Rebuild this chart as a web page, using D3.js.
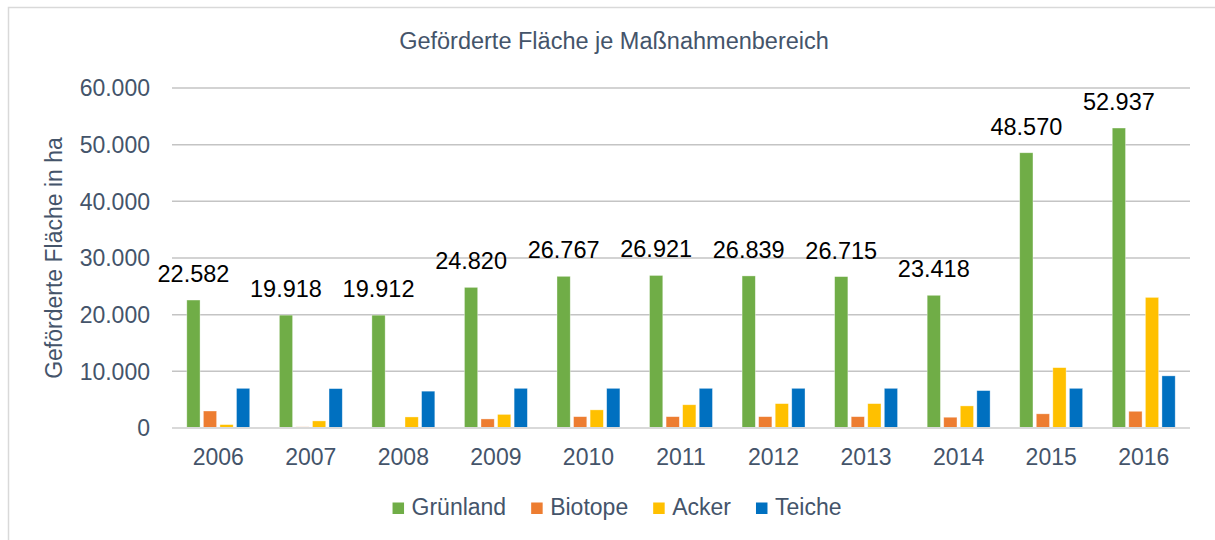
<!DOCTYPE html>
<html>
<head>
<meta charset="utf-8">
<script src="https://cdn.jsdelivr.net/npm/d3@7"></script>
<style>
  body { margin: 0; background: #fff; }
  svg text { font-family: "Liberation Sans", Arial, sans-serif; }
</style>
</head>
<body>
<svg id="vis-svg" width="1215" height="540"></svg>
<script>
// data
var years = ["2006","2007","2008","2009","2010","2011","2012","2013","2014","2015","2016"];
var series = ["Grünland","Biotope","Acker","Teiche"];
var gruenland = [22582,19918,19912,24820,26767,26921,26839,26715,23418,48570,52937];
var biotope = [3000,200,0,1600,2000,2000,2000,2000,1900,2500,2950];
var acker = [600,1250,1950,2400,3200,4100,4300,4300,3900,10650,23050];
var teiche = [7000,6950,6500,7000,7000,7000,7000,7000,6600,7000,9200];
var yTicks = [0,10000,20000,30000,40000,50000,60000];
var colors = ["#70AD47","#ED7D31","#FFC000","#0070C0"];

var width = 1215, height = 540;
var margin = { top: 88, right: 25, bottom: 112, left: 172 };
var textColor = "#44546A";

var de = d3.formatLocale({ decimal: ",", thousands: ".", grouping: [3], currency: ["", " €"] });
var fmt = de.format(",d");

var svg = d3.select("#vis-svg");

// chart frame (only left/top edges are in view)
svg.append("rect")
  .attr("x", 8.5).attr("y", 7.5)
  .attr("width", 1230).attr("height", 560)
  .attr("fill", "none")
  .attr("stroke", "#d9d9d9")
  .attr("stroke-width", 1.5);

var x = d3.scaleBand()
  .domain(years)
  .range([margin.left, width - margin.right])
  .paddingInner(0.32)
  .paddingOuter(0.16);

var xs = d3.scaleBand()
  .domain(series)
  .range([0, x.bandwidth()])
  .paddingInner(0.2);

var y = d3.scaleLinear()
  .domain([0, 60000])
  .range([height - margin.bottom, margin.top]);

// gridlines
svg.append("g")
  .selectAll("line")
  .data(yTicks.slice(1))
  .enter()
  .append("line")
  .attr("x1", margin.left)
  .attr("x2", width - margin.right)
  .attr("y1", d => y(d))
  .attr("y2", d => y(d))
  .attr("stroke", "#c4c4c4")
  .attr("stroke-width", 1.5);

// y tick labels
svg.append("g")
  .selectAll("text")
  .data(yTicks)
  .enter()
  .append("text")
  .attr("x", 150)
  .attr("y", d => y(d))
  .attr("dy", "0.36em")
  .attr("text-anchor", "end")
  .attr("fill", textColor)
  .style("font-size", "23px")
  .text(d => fmt(d));

// bars
var rows = years.map(function(yr, i) {
  return { year: yr, values: [gruenland[i], biotope[i], acker[i], teiche[i]] };
});

var groups = svg.append("g")
  .selectAll("g")
  .data(rows)
  .enter()
  .append("g")
  .attr("transform", d => "translate(" + x(d.year) + ",0)");

groups.selectAll("rect")
  .data(d => d.values.map((v, j) => ({ key: series[j], value: v, color: colors[j] })))
  .enter()
  .append("rect")
  .attr("x", d => xs(d.key))
  .attr("width", xs.bandwidth())
  .attr("y", d => y(d.value))
  .attr("height", d => y(0) - y(d.value))
  .attr("fill", d => d.color)
  .attr("stroke", "#ffffff")
  .attr("stroke-opacity", 0.5)
  .attr("stroke-width", 0.7);

// baseline
svg.append("line")
  .attr("x1", margin.left)
  .attr("x2", width - margin.right)
  .attr("y1", y(0))
  .attr("y2", y(0))
  .attr("stroke", "#d9d9d9")
  .attr("stroke-width", 2);

// data labels on Grünland
groups.append("text")
  .attr("x", xs("Grünland") + xs.bandwidth() / 2)
  .attr("y", d => y(d.values[0]) - 18)
  .attr("text-anchor", "middle")
  .attr("fill", "#000")
  .style("font-size", "23.5px")
  .text(d => fmt(d.values[0]));

// x labels
svg.append("g")
  .selectAll("text")
  .data(years)
  .enter()
  .append("text")
  .attr("x", d => x(d) + x.bandwidth() / 2)
  .attr("y", 465)
  .attr("text-anchor", "middle")
  .attr("fill", textColor)
  .style("font-size", "23px")
  .text(d => d);

// title
svg.append("text")
  .attr("x", 614)
  .attr("y", 49)
  .attr("text-anchor", "middle")
  .attr("fill", textColor)
  .style("font-size", "23.5px")
  .text("Geförderte Fläche je Maßnahmenbereich");

// y axis title
svg.append("text")
  .attr("transform", "translate(62," + (y(0) + y(60000)) / 2 + ") rotate(-90)")
  .attr("text-anchor", "middle")
  .attr("fill", textColor)
  .style("font-size", "23px")
  .text("Geförderte Fläche in ha");

// legend
var legend = svg.append("g");
var lx = 0;
series.forEach(function(s, i) {
  var item = legend.append("g").attr("transform", "translate(" + lx + ",0)");
  item.append("rect")
    .attr("x", 0).attr("y", -12.5)
    .attr("width", 11.5).attr("height", 11.5)
    .attr("fill", colors[i]);
  var t = item.append("text")
    .attr("x", 19)
    .attr("y", 0)
    .attr("fill", textColor)
    .style("font-size", "23px")
    .text(s);
  lx += 19 + t.node().getComputedTextLength() + 25;
});
var legendW = lx - 25;
legend.attr("transform", "translate(" + (617 - legendW / 2) + ",515)");
</script>
</body>
</html>
